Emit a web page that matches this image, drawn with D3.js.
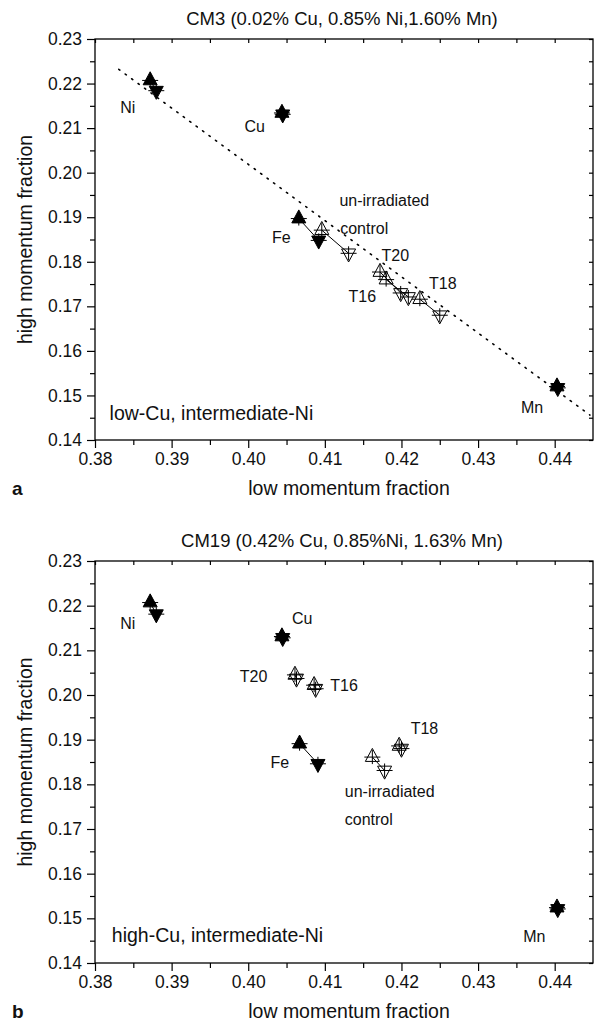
<!DOCTYPE html>
<html>
<head>
<meta charset="utf-8">
<script src="https://cdn.jsdelivr.net/npm/d3@7"></script>
<style>
  body { margin: 0; background: #fff; }
  text { font-family: "Liberation Sans", Arial, sans-serif; fill: #111; }
</style>
</head>
<body>
<svg id="mainsvg" width="598" height="1023"></svg>
<script>
// samples, same order in both panels
const samples = ["Ni", "Cu", "Fe", "control", "T20", "T16", "T18", "Mn"]
const filled = [true, true, true, false, false, false, false, true]

// panel a: CM3
const upXA = [0.3872, 0.4044, 0.4066, 0.4096, 0.4172, 0.4180, 0.4224, 0.4403]
const upYA = [0.2207, 0.2134, 0.1897, 0.1871, 0.1777, 0.1760, 0.1716, 0.1520]
const downXA = [0.3880, 0.4045, 0.4092, 0.4131, 0.4199, 0.4209, 0.4250, 0.4404]
const downYA = [0.2184, 0.2131, 0.1848, 0.1819, 0.1730, 0.1721, 0.1680, 0.1517]
const trendX = [0.3831, 0.4446]
const trendY = [0.2232, 0.1456]

// panel b: CM19
const upXB = [0.3872, 0.4044, 0.4067, 0.4162, 0.4061, 0.4086, 0.4197, 0.4403]
const upYB = [0.2207, 0.2131, 0.1891, 0.1861, 0.2045, 0.2022, 0.1886, 0.1524]
const downXB = [0.3880, 0.4045, 0.4091, 0.4178, 0.4063, 0.4088, 0.4200, 0.4404]
const downYB = [0.2181, 0.2128, 0.1846, 0.1831, 0.2037, 0.2014, 0.1880, 0.1521]

// text labels (data coords)
const labelTextA = ["Ni", "Cu", "Fe", "un-irradiated", "control", "T20", "T16", "T18", "Mn", "low-Cu, intermediate-Ni"]
const labelXA = [0.3833, 0.3995, 0.4031, 0.4119, 0.4120, 0.4174, 0.4131, 0.4236, 0.4356, 0.3819]
const labelYA = [0.2133, 0.2091, 0.1842, 0.1925, 0.1863, 0.1801, 0.1710, 0.1740, 0.1460, 0.1445]
const labelTextB = ["Ni", "Cu", "T20", "T16", "Fe", "T18", "un-irradiated", "control", "Mn", "high-Cu, intermediate-Ni"]
const labelXB = [0.3833, 0.4057, 0.3989, 0.4107, 0.4029, 0.4212, 0.4126, 0.4126, 0.4359, 0.3822]
const labelYB = [0.2148, 0.2160, 0.2030, 0.2009, 0.1836, 0.1912, 0.1772, 0.1709, 0.1448, 0.1448]

const xMajor = [0.38, 0.39, 0.40, 0.41, 0.42, 0.43, 0.44]
const xMinor = [0.385, 0.395, 0.405, 0.415, 0.425, 0.435]
const yMajor = [0.14, 0.15, 0.16, 0.17, 0.18, 0.19, 0.20, 0.21, 0.22, 0.23]
const yMinor = [0.145, 0.155, 0.165, 0.175, 0.185, 0.195, 0.205, 0.215, 0.225]

const svg = d3.select("#mainsvg")
const fmt = d3.format(".2f")

function triPath(cx, cy, up) {
  // triangle centred on its centroid
  let w = 7, h = 13
  let s = up ? 1 : -1
  return `M${cx},${cy - s * h * 2 / 3} L${cx - w},${cy + s * h / 3} L${cx + w},${cy + s * h / 3} Z`
}

function drawPanel(top, bottom, title, letter, upX, upY, downX, downY, labTxt, labX, labY, trend) {
  const x = d3.scaleLinear().domain([0.38, 0.445]).range([95, 593])
  const y = d3.scaleLinear().domain([0.14, 0.23]).range([bottom, top])
  const g = svg.append("g")

  // frame
  g.append("rect")
    .attr("x", 95).attr("y", top)
    .attr("width", 498).attr("height", bottom - top)
    .attr("fill", "none").attr("stroke", "#000").attr("stroke-width", 1.3)

  // outer ticks left/bottom
  g.append("g").attr("transform", `translate(0,${bottom})`)
    .call(d3.axisBottom(x).tickValues(xMajor).tickSize(8).tickSizeOuter(0).tickPadding(5).tickFormat(fmt))
  g.append("g").attr("transform", `translate(0,${bottom})`)
    .call(d3.axisBottom(x).tickValues(xMinor).tickSize(5).tickSizeOuter(0).tickFormat(""))
  g.append("g").attr("transform", `translate(95,0)`)
    .call(d3.axisLeft(y).tickValues(yMajor).tickSize(8).tickSizeOuter(0).tickPadding(5).tickFormat(fmt))
  g.append("g").attr("transform", `translate(95,0)`)
    .call(d3.axisLeft(y).tickValues(yMinor).tickSize(5).tickSizeOuter(0).tickFormat(""))
  // inner ticks top/right
  g.append("g").attr("transform", `translate(0,${top})`)
    .call(d3.axisTop(x).tickValues(xMajor.concat(xMinor)).tickSize(-4).tickSizeOuter(0).tickFormat(""))
  g.append("g").attr("transform", `translate(593,0)`)
    .call(d3.axisRight(y).tickValues(yMajor.concat(yMinor)).tickSize(-4).tickSizeOuter(0).tickFormat(""))

  g.selectAll(".domain").remove()
  g.selectAll(".tick line").attr("stroke", "#000").attr("stroke-width", 1.2)
  g.selectAll(".tick text")
    .style("font-family", '"Liberation Sans", Arial, sans-serif')
    .style("font-size", "17.5px").attr("fill", "#111")

  // trend line
  if (trend) {
    g.append("line")
      .attr("x1", x(trend[0][0])).attr("y1", y(trend[1][0]))
      .attr("x2", x(trend[0][1])).attr("y2", y(trend[1][1]))
      .attr("stroke", "#000").attr("stroke-width", 1.6)
      .attr("stroke-dasharray", "1.4,6.6").style("stroke-linecap", "round")
  }

  // links between up/down markers
  samples.forEach((s, i) => {
    g.append("line")
      .attr("x1", x(upX[i])).attr("y1", y(upY[i]))
      .attr("x2", x(downX[i])).attr("y2", y(downY[i]))
      .attr("stroke", "#000").attr("stroke-width", 1)
  })

  // markers with error crosses
  samples.forEach((s, i) => {
    [[upX[i], upY[i], true], [downX[i], downY[i], false]].forEach(d => {
      let cx = x(d[0]), cy = y(d[1])
      g.append("path")
        .attr("d", triPath(cx, cy, d[2]))
        .attr("fill", filled[i] ? "#000" : "none")
        .attr("stroke", "#000").attr("stroke-width", 1)
      g.append("path")
        .attr("d", `M${cx - 8},${cy} L${cx + 8},${cy} M${cx},${cy - 7} L${cx},${cy + 7}`)
        .attr("stroke", "#000").attr("stroke-width", 1)
    })
  })

  // labels
  labTxt.forEach((t, i) => {
    g.append("text")
      .attr("x", x(labX[i])).attr("y", y(labY[i]))
      .style("font-size", i === labTxt.length - 1 ? "19.5px" : "16px")
      .text(t)
  })

  // titles
  g.append("text").attr("x", 342).attr("y", top - 14)
    .attr("text-anchor", "middle").style("font-size", "18.5px").text(title)
  g.append("text").attr("x", 349).attr("y", bottom + 55)
    .attr("text-anchor", "middle").style("font-size", "19.5px").text("low momentum fraction")
  g.append("text")
    .attr("transform", `translate(32,${(top + bottom) / 2}) rotate(-90)`)
    .attr("text-anchor", "middle").style("font-size", "19.5px").text("high momentum fraction")
  g.append("text").attr("x", 12).attr("y", bottom + 55)
    .style("font-size", "19px").style("font-weight", "bold").text(letter)
}

drawPanel(39, 440, "CM3 (0.02% Cu, 0.85% Ni,1.60% Mn)", "a",
  upXA, upYA, downXA, downYA, labelTextA, labelXA, labelYA, [trendX, trendY])
drawPanel(561, 963, "CM19 (0.42% Cu, 0.85%Ni, 1.63% Mn)", "b",
  upXB, upYB, downXB, downYB, labelTextB, labelXB, labelYB, null)
</script>
</body>
</html>
